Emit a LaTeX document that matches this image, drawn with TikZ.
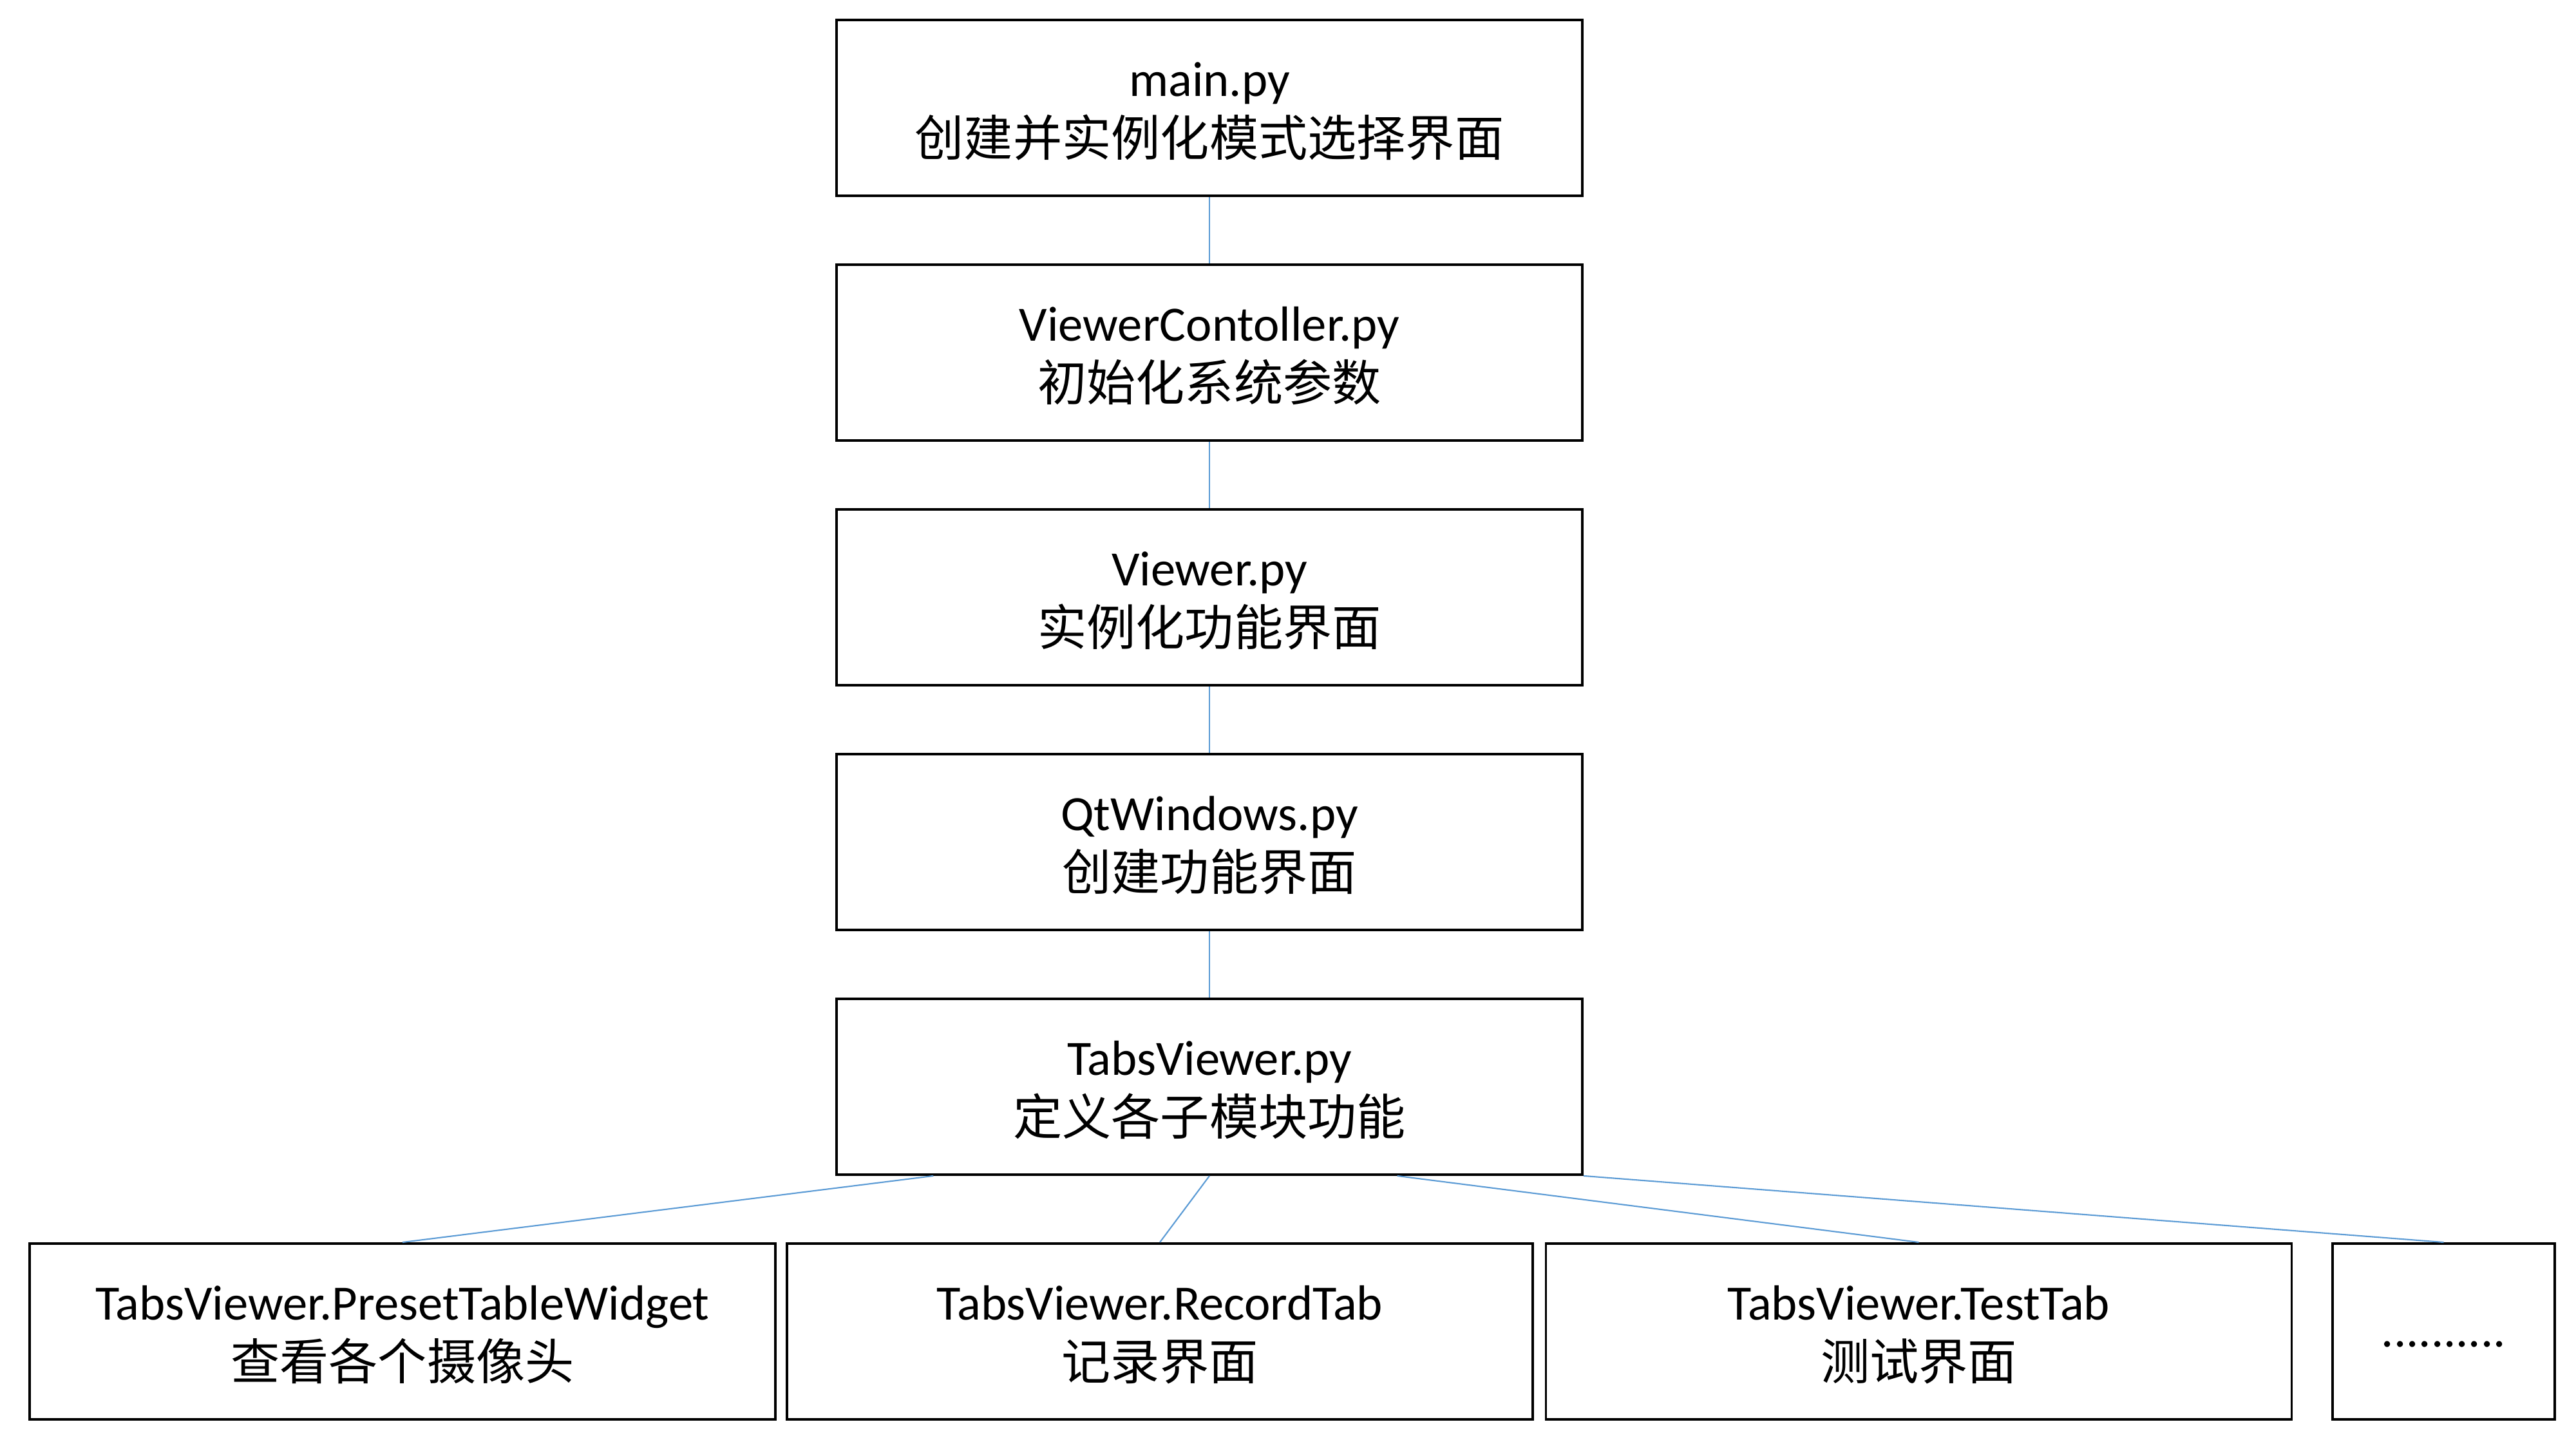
\documentclass[tikz,border=0pt]{standalone}
\usepackage{fontspec}
\setmainfont{Carlito}
\newfontfamily\cjk[Scale=0.995]{Noto Sans CJK SC}
\usetikzlibrary{calc}
\definecolor{linkblue}{RGB}{91,155,213}
\newcommand\twolines[2]{\raisebox{-0.1cm}[\height][\depth]{\begin{tabular}{@{}c@{}}#1\\{\cjk #2}\end{tabular}}}
\begin{document}
\begin{tikzpicture}[x=1cm,y=1cm,
  box/.style={draw=black,line width=1.1pt,minimum width=11.58cm,minimum height=2.73cm,
    inner sep=0pt,font=\fontsize{21.8}{26.5}\selectfont},
  smallbox/.style={box,minimum width=3.45cm},
  link/.style={draw=linkblue,line width=0.6pt}]
\useasboundingbox (0,0) rectangle (40,22.5);
\fill[white] (0,0) rectangle (40,22.5);
\node[box] (b1) at (18.78,20.825) {\twolines{main.py}{创建并实例化模式选择界面}};
\node[box] (b2) at (18.78,17.025) {\twolines{ViewerContoller.py}{初始化系统参数}};
\node[box] (b3) at (18.78,13.225) {\twolines{Viewer.py}{实例化功能界面}};
\node[box] (b4) at (18.78,9.425) {\twolines{QtWindows.py}{创建功能界面}};
\node[box] (b5) at (18.78,5.625) {\twolines{TabsViewer.py}{定义各子模块功能}};
\node[box] (c1) at (6.25,1.825) {\twolines{TabsViewer.PresetTableWidget}{查看各个摄像头}};
\node[box] (c2) at (18.01,1.825) {\twolines{TabsViewer.RecordTab}{记录界面}};
\node[box] (c3) at (29.795,1.825) {\twolines{TabsViewer.TestTab}{测试界面}};
\node[smallbox] (c4) at (37.945,1.825) {\raisebox{-0.2cm}[\height][\depth]{..........}};
\path[link] (b1.south) -- (b2.north);
\path[link] (b2.south) -- (b3.north);
\path[link] (b3.south) -- (b4.north);
\path[link] (b4.south) -- (b5.north);
\coordinate (p1) at ($(b5.south west)!0.131!(b5.south east)$);
\coordinate (p3) at ($(b5.south west)!0.751!(b5.south east)$);
\path[link] (p1) -- (c1.north);
\path[link] (b5.south) -- (c2.north);
\path[link] (p3) -- (c3.north);
\path[link] (b5.south east) -- (c4.north);
\end{tikzpicture}
\end{document}
